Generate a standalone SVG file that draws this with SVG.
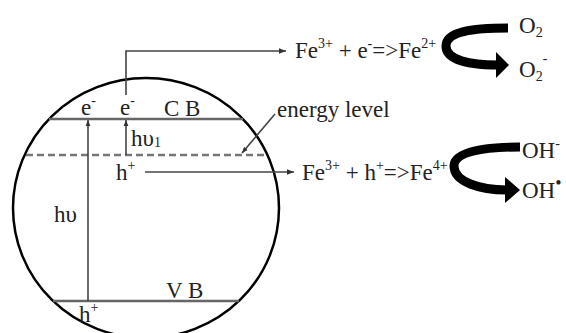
<svg xmlns="http://www.w3.org/2000/svg" width="566" height="333" viewBox="0 0 566 333">
<defs>
<marker id="ah" viewBox="0 0 10 10" refX="10" refY="5" markerWidth="6" markerHeight="6" orient="auto" markerUnits="userSpaceOnUse"><path d="M0,1 L10,5 L0,9 Z" fill="#333"/></marker>
<marker id="ahs" viewBox="0 0 10 10" refX="10" refY="5" markerWidth="7" markerHeight="7" orient="auto" markerUnits="userSpaceOnUse"><path d="M0,1 L10,5 L0,9 Z" fill="#333"/></marker>
</defs>
<style>
text{font-family:"Liberation Serif","Times New Roman",serif;fill:#222;font-size:23px}
.band{stroke:#666;stroke-width:2.5;fill:none}
.ln{stroke:#444;stroke-width:1.6;fill:none}
.sup{font-size:14px}
.sub{font-size:14px}
.big{stroke:#000;stroke-width:9;fill:none}
</style>
<rect width="566" height="333" fill="#fff"/>
<g id="particle">
<ellipse cx="146" cy="208" rx="133" ry="130" fill="none" stroke="#000" stroke-width="2.5"/>
</g>
<g id="CB">
<line class="band" x1="49" y1="119" x2="243" y2="119"/>
<text x="164" y="116">C B</text>
</g>
<g id="VB">
<line class="band" x1="53" y1="301" x2="239" y2="301"/>
<text x="166" y="298">V B</text>
</g>
<g id="energy-level">
<line x1="26" y1="155" x2="267" y2="155" stroke="#777" stroke-width="2.5" stroke-dasharray="7,4"/>
<text x="277" y="117">energy level</text>
</g>
<g id="labels">
<text x="81" y="115">e<tspan class="sup" dy="-10">-</tspan></text>
<text x="120" y="115">e<tspan class="sup" dy="-10">-</tspan></text>
<text x="131" y="146">hυ<tspan class="sub" dy="1">1</tspan></text>
<text x="116" y="180">h<tspan class="sup" dy="-10">+</tspan></text>
<text x="54" y="222">hυ</text>
<text x="79" y="322">h<tspan class="sup" dy="-10">+</tspan></text>
</g>
<g id="eq-e">
<text x="295" y="58">Fe<tspan class="sup" dy="-10">3+</tspan><tspan dy="10"> + e</tspan><tspan class="sup" dy="-10">-</tspan><tspan dy="10">=&gt;Fe</tspan><tspan class="sup" dy="-10">2+</tspan></text>
</g>
<g id="eq-h">
<text x="302" y="180">Fe<tspan class="sup" dy="-10">3+</tspan><tspan dy="10"> + h</tspan><tspan class="sup" dy="-10">+</tspan><tspan dy="10">=&gt;Fe</tspan><tspan class="sup" dy="-10">4+</tspan></text>
</g>
<g id="O2">
<text x="519" y="33">O<tspan class="sub" dy="4">2</tspan></text>
<text x="519" y="77">O<tspan class="sub" dy="4">2</tspan><tspan class="sup" dy="-18">-</tspan></text>
</g>
<g id="OH">
<text x="522" y="158">OH<tspan class="sup" dy="-10">-</tspan></text>
<text x="522" y="198">OH<tspan font-size="18" dy="-9">•</tspan></text>
</g>
<g id="connectors">
<line class="ln" x1="88" y1="301" x2="88" y2="120" marker-end="url(#ah)"/>
<line class="ln" x1="126" y1="155" x2="126" y2="120" marker-end="url(#ah)"/>
<polyline class="ln" points="126,95 126,51 286,51" marker-end="url(#ahs)"/>
<line class="ln" x1="145" y1="172" x2="294" y2="172" marker-end="url(#ahs)"/>
<line class="ln" x1="275" y1="114" x2="242" y2="153" marker-end="url(#ah)"/>
<path class="big" d="M508,28 C470,28 446,32 446,46 C446,60 470,65 498,65"/>
<polygon points="496,52 509,65 496,78" fill="#000"/>
<path class="big" d="M520,147 C482,147 454,152 454,166 C454,182 480,190 507,190"/>
<polygon points="505,177 520,190 505,203" fill="#000"/>
</g>
</svg>
